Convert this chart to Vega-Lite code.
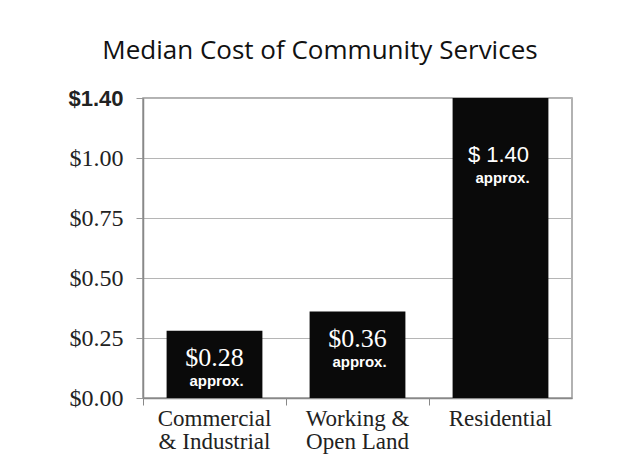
{
  "$schema": "https://vega.github.io/schema/vega-lite/v6.json",
  "width": 429,
  "height": 300,
  "padding": {"left": 67, "top": 38, "right": 57, "bottom": 5},
  "background": "white",
  "title": {
    "text": "Median Cost of Community Services",
    "font": "Open Sans",
    "fontSize": 26,
    "fontWeight": "normal",
    "color": "#111",
    "anchor": "middle",
    "frame": "bounds",
    "offset": 23
  },
  "data": {
    "values": [
      {"category": "Commercial & Industrial", "value": 0.28, "label": "$0.28", "note": "approx."},
      {"category": "Working & Open Land", "value": 0.36, "label": "$0.36", "note": "approx."},
      {"category": "Residential", "value": 1.40, "label": "$ 1.40", "note": "approx."}
    ]
  },
  "encoding": {
    "x": {
      "field": "category",
      "type": "nominal",
      "sort": null,
      "title": null,
      "scale": {"paddingInner": 0, "paddingOuter": 0},
      "axis": {
        "labelAngle": 0,
        "bandPosition": 0,
        "labelFont": "Liberation Serif",
        "labelFontSize": 23,
        "labelLineHeight": 23,
        "labelColor": "#222",
        "labelPadding": 2,
        "tickSize": 7,
        "tickColor": "#888",
        "domainColor": "#888",
        "domainWidth": 1.5,
        "labelExpr": "datum.label == 'Commercial & Industrial' ? ['Commercial', '& Industrial'] : datum.label == 'Working & Open Land' ? ['Working &', 'Open Land'] : datum.label"
      }
    },
    "y": {
      "field": "value",
      "type": "quantitative",
      "title": null,
      "scale": {"domain": [0, 1.25], "clamp": true, "nice": false, "zero": true},
      "axis": {
        "values": [0, 0.25, 0.5, 0.75, 1.0, 1.25],
        "labelExpr": "datum.value >= 1.25 ? '$1.40' : '$' + format(datum.value, '.2f')",
        "labelFont": {"condition": {"test": "datum.value >= 1.25", "value": "Liberation Sans"}, "value": "Liberation Serif"},
        "labelFontWeight": {"condition": {"test": "datum.value >= 1.25", "value": "bold"}, "value": "normal"},
        "labelFontSize": {"condition": {"test": "datum.value >= 1.25", "value": 22}, "value": 24},
        "labelColor": "#222",
        "labelPadding": 13,
        "tickSize": 7,
        "tickColor": "#999",
        "domainColor": "#888",
        "domainWidth": 1.5,
        "grid": true,
        "gridColor": "#b5b5b5",
        "gridWidth": 1
      }
    }
  },
  "layer": [
    {
      "mark": {"type": "bar", "color": "#0a0a0a", "width": {"band": 0.67}}
    },
    {
      "transform": [{"filter": "datum.value < 1.25"}],
      "mark": {"type": "text", "color": "white", "font": "Liberation Serif", "fontSize": 26, "baseline": "alphabetic", "dy": 35},
      "encoding": {"text": {"field": "label"}}
    },
    {
      "transform": [{"filter": "datum.value < 1.25"}],
      "mark": {"type": "text", "color": "white", "font": "Liberation Sans", "fontWeight": "bold", "fontSize": 15, "baseline": "alphabetic", "dy": 55, "dx": 2},
      "encoding": {"text": {"field": "note"}}
    },
    {
      "transform": [{"filter": "datum.value >= 1.25"}],
      "mark": {"type": "text", "color": "white", "font": "Liberation Sans", "fontSize": 22, "baseline": "alphabetic", "dy": 64, "dx": -2},
      "encoding": {"text": {"field": "label"}}
    },
    {
      "transform": [{"filter": "datum.value >= 1.25"}],
      "mark": {"type": "text", "color": "white", "font": "Liberation Sans", "fontWeight": "bold", "fontSize": 15, "baseline": "alphabetic", "dy": 85, "dx": 2},
      "encoding": {"text": {"field": "note"}}
    }
  ],
  "config": {
    "view": {"stroke": "#999", "strokeWidth": 1.5}
  }
}
